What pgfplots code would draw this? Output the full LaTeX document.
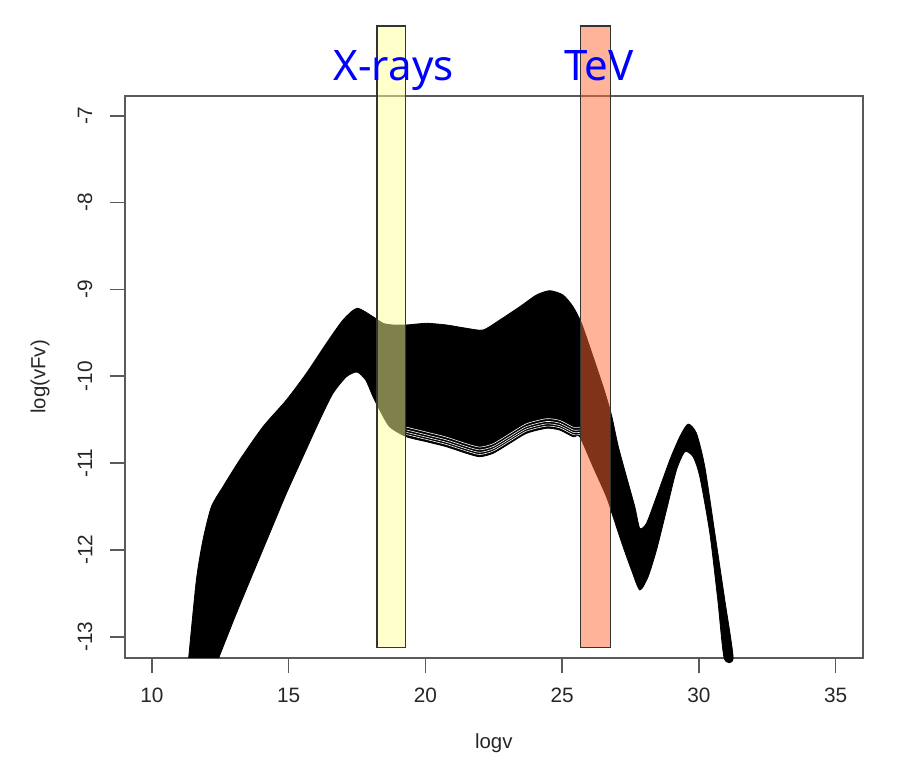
\documentclass[border=0pt]{standalone}
\usepackage{pgfplots}
\usepackage{pgfplotstable}
\pgfplotsset{compat=1.18}
\usepackage{fontspec}
\setmainfont{Liberation Sans}
\newfontfamily\bandfont{Noto Sans}

\definecolor{xraycol}{RGB}{255,255,153}
\definecolor{tevcol}{RGB}{255,103,51}
\definecolor{framecol}{RGB}{90,90,90}

% envelope of the SED models: upper edge left to right, then lower edge back
\pgfplotstableread{
x y
11.342 -13.245
11.624 -12.347
11.865 -11.887
12.173 -11.503
12.597 -11.273
13.208 -10.965
14.060 -10.582
14.916 -10.274
15.647 -9.967
16.379 -9.621
16.986 -9.353
17.498 -9.218
18.083 -9.315
18.449 -9.391
18.815 -9.410
19.305 -9.410
20.037 -9.391
20.768 -9.410
21.500 -9.448
22.107 -9.468
22.718 -9.353
23.449 -9.200
24.060 -9.065
24.547 -9.015
25.033 -9.065
25.399 -9.200
25.706 -9.391
26.130 -9.776
26.496 -10.121
26.803 -10.447
27.045 -10.800
27.352 -11.158
27.656 -11.503
27.838 -11.752
28.083 -11.694
28.449 -11.388
28.936 -10.965
29.302 -10.697
29.605 -10.551
29.912 -10.658
30.216 -11.042
30.582 -11.806
30.947 -12.578
31.251 -13.245
30.922 -13.245
30.691 -12.578
30.399 -11.806
30.033 -11.158
29.788 -10.927
29.485 -10.870
29.180 -11.080
28.815 -11.541
28.449 -12.002
28.142 -12.309
27.838 -12.462
27.535 -12.232
27.228 -11.964
26.862 -11.618
26.620 -11.388
26.130 -11.042
25.644 -10.697
25.399 -10.697
24.912 -10.620
24.426 -10.600
23.694 -10.658
23.083 -10.773
22.473 -10.888
21.986 -10.927
21.500 -10.888
20.768 -10.812
20.037 -10.754
19.305 -10.697
18.694 -10.582
18.329 -10.389
18.083 -10.236
17.816 -10.044
17.498 -9.952
17.111 -10.006
16.620 -10.197
16.134 -10.505
15.523 -10.927
14.916 -11.349
14.305 -11.809
13.694 -12.270
13.087 -12.731
12.440 -13.245
}\envelope

% lowest models between the two bands, where single curves separate
\pgfplotstableread{
x y
19.305 -10.697
20.037 -10.754
20.768 -10.812
21.500 -10.888
21.986 -10.927
22.473 -10.888
23.083 -10.773
23.694 -10.658
24.426 -10.600
24.912 -10.620
25.399 -10.697
25.644 -10.697
}\lowedge

\begin{document}
\begin{tikzpicture}[x=1pt,y=1pt]
\useasboundingbox (0,0) rectangle (459,387.5);
\begin{axis}[
  at={(62.3pt,58.5pt)}, anchor=south west,
  width=369.2pt, height=281pt, scale only axis,
  xmin=9, xmax=36, ymin=-13.245, ymax=-6.773,
  xtick={10,15,20,25,30,35},
  ytick={-13,-12,-11,-10,-9,-8,-7},
  xtick pos=bottom, ytick pos=left,
  tick align=outside, major tick length=7.5pt,
  axis line style={draw=framecol, line width=1pt},
  every tick/.style={draw=framecol, line width=0.8pt},
  /pgf/number format/assume math mode=true,
  tick label style={font=\fontsize{10.4}{12}\selectfont, text=black!85},
  xticklabel style={anchor=center, yshift=-11pt},
  yticklabel style={xshift=-12.3pt, rotate=90, anchor=center},
  xlabel={logv}, ylabel={log(vFv)},
  label style={font=\fontsize{10.2}{12}\selectfont, text=black!85},
  xlabel style={at={(axis description cs:0.5,-0.1512)}, anchor=center},
  ylabel style={at={(axis description cs:-0.1146,0.5)}, anchor=center},
  clip=false,
]
\addplot[fill=black, draw=black, line width=0.4pt, smooth, tension=0.4] table {\envelope};
\addplot[draw=white, line width=0.3pt, smooth, tension=0.4, yshift=1.1pt] table {\lowedge};
\addplot[draw=white, line width=0.3pt, smooth, tension=0.4, yshift=2.2pt] table {\lowedge};
\addplot[draw=white, line width=0.3pt, smooth, tension=0.4, yshift=3.4pt] table {\lowedge};
\addplot[draw=white, line width=0.3pt, smooth, tension=0.4, yshift=4.8pt] table {\lowedge};

% X-ray and TeV windows
\addplot[fill=xraycol, fill opacity=0.5, draw=black!80, line width=0.6pt]
  coordinates {(18.23,-13.12) (19.28,-13.12) (19.28,-5.967) (18.23,-5.967)} -- cycle;
\addplot[fill=tevcol, fill opacity=0.5, draw=black!80, line width=0.6pt]
  coordinates {(25.67,-13.12) (26.78,-13.12) (26.78,-5.967) (25.67,-5.967)} -- cycle;

\node[font=\bandfont\fontsize{21}{25}\selectfont, text=blue, anchor=base]
  at (axis cs:18.84,-6.589) {X-rays};
\node[font=\bandfont\fontsize{21}{25}\selectfont, text=blue, anchor=base]
  at (axis cs:26.34,-6.589) {TeV};
\end{axis}
\end{tikzpicture}
\end{document}
